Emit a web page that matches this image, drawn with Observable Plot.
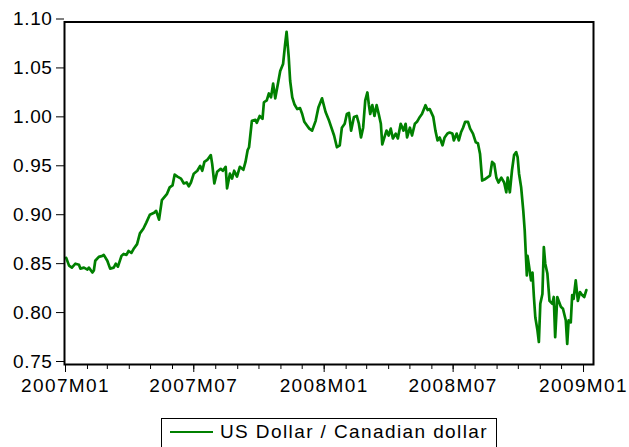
<!DOCTYPE html>
<html>
<head>
<meta charset="utf-8">
<script src="https://cdn.jsdelivr.net/npm/d3@7"></script>
<script src="https://cdn.jsdelivr.net/npm/@observablehq/plot@0.6"></script>
<style>
  html, body { margin: 0; padding: 0; background: #fff; }
  #wrap { position: relative; width: 629px; height: 447px; overflow: hidden; background: #fff; }
  #legend {
    position: absolute; left: 161px; top: 418px; width: 336px; height: 30px;
    border: 1px solid #000; box-sizing: border-box; display: flex; align-items: center;
    padding-bottom: 2px; background: #fff;
  }
  #legend .swatch { display: inline-block; width: 43px; height: 0; border-top: 2.5px solid #008000; margin-left: 8px; margin-right: 7px; }
  #legend .lab { font: 19px "Liberation Sans", Arial, sans-serif; letter-spacing: 1.4px; color: #000; white-space: nowrap; }
  .yax text { letter-spacing: 0.6px; }
</style>
</head>
<body>
<div id="wrap"></div>
<script>
// ---- Data ----
const seriesName = "US Dollar / Canadian dollar";
const dates = [
  "2007-01-02","2007-01-06","2007-01-10","2007-01-15","2007-01-20","2007-01-22","2007-01-27","2007-02-01",
  "2007-02-03","2007-02-08","2007-02-10","2007-02-12","2007-02-17","2007-02-22","2007-02-24","2007-03-01",
  "2007-03-05","2007-03-10","2007-03-13","2007-03-16","2007-03-21","2007-03-24","2007-03-28","2007-03-31",
  "2007-04-04","2007-04-07","2007-04-12","2007-04-16","2007-04-21","2007-04-25","2007-04-30","2007-05-06",
  "2007-05-09","2007-05-13","2007-05-17","2007-05-24","2007-05-28","2007-06-01","2007-06-04","2007-06-08",
  "2007-06-13","2007-06-17","2007-06-21","2007-06-24","2007-06-27","2007-07-01","2007-07-06","2007-07-10",
  "2007-07-13","2007-07-16","2007-07-20","2007-07-25","2007-07-27","2007-07-30","2007-08-03","2007-08-08",
  "2007-08-11","2007-08-15","2007-08-17","2007-08-21","2007-08-24","2007-08-27","2007-08-31","2007-09-04",
  "2007-09-09","2007-09-12","2007-09-15","2007-09-17","2007-09-21","2007-09-26","2007-09-28","2007-10-02",
  "2007-10-06","2007-10-08","2007-10-12","2007-10-15","2007-10-18","2007-10-21","2007-10-24","2007-10-28",
  "2007-10-31","2007-11-04","2007-11-07","2007-11-09","2007-11-12","2007-11-14","2007-11-17","2007-11-20",
  "2007-11-24","2007-11-28","2007-12-01","2007-12-04","2007-12-08","2007-12-11","2007-12-15","2007-12-20",
  "2007-12-24","2007-12-29","2008-01-03","2008-01-08","2008-01-15","2008-01-19","2008-01-23","2008-01-26",
  "2008-01-30","2008-02-02","2008-02-05","2008-02-08","2008-02-12","2008-02-16","2008-02-19","2008-02-22",
  "2008-02-25","2008-02-28","2008-03-02","2008-03-04","2008-03-06","2008-03-09","2008-03-12","2008-03-15",
  "2008-03-18","2008-03-21","2008-03-23","2008-03-26","2008-03-29","2008-04-01","2008-04-04","2008-04-07",
  "2008-04-11","2008-04-14","2008-04-18","2008-04-22","2008-04-25","2008-04-27","2008-05-01","2008-05-04",
  "2008-05-08","2008-05-11","2008-05-15","2008-05-18","2008-05-23","2008-05-26","2008-05-29","2008-06-03",
  "2008-06-06","2008-06-09","2008-06-12","2008-06-16","2008-06-19","2008-06-23","2008-06-26","2008-06-30",
  "2008-07-02","2008-07-06","2008-07-09","2008-07-12","2008-07-15","2008-07-18","2008-07-22","2008-07-25",
  "2008-07-29","2008-08-02","2008-08-05","2008-08-08","2008-08-11","2008-08-14","2008-08-18","2008-08-22",
  "2008-08-25","2008-08-28","2008-08-31","2008-09-03","2008-09-07","2008-09-11","2008-09-14","2008-09-16",
  "2008-09-19","2008-09-22","2008-09-25","2008-09-28","2008-09-30","2008-10-02","2008-10-05","2008-10-08",
  "2008-10-10","2008-10-13","2008-10-14","2008-10-17","2008-10-19","2008-10-21","2008-10-23","2008-10-25",
  "2008-10-28","2008-10-30","2008-11-01","2008-11-04","2008-11-06","2008-11-08","2008-11-11","2008-11-14",
  "2008-11-18","2008-11-20","2008-11-22","2008-11-25","2008-11-27","2008-11-30","2008-12-03","2008-12-07",
  "2008-12-09","2008-12-11","2008-12-14","2008-12-16","2008-12-18","2008-12-21","2008-12-24","2008-12-27",
  "2008-12-30","2009-01-02","2009-01-05"
];
const values = [
  0.859,0.851,0.849,0.853,0.852,0.848,0.849,0.847,
  0.849,0.844,0.846,0.856,0.860,0.861,0.862,0.856,
  0.848,0.849,0.853,0.850,0.861,0.863,0.862,0.866,
  0.864,0.868,0.873,0.884,0.889,0.895,0.903,0.905,
  0.907,0.898,0.918,0.924,0.931,0.933,0.944,0.942,
  0.940,0.935,0.936,0.932,0.936,0.945,0.948,0.953,
  0.948,0.957,0.959,0.964,0.955,0.935,0.947,0.950,
  0.948,0.952,0.930,0.945,0.940,0.948,0.942,0.952,
  0.949,0.957,0.969,0.972,0.999,1.000,0.997,1.004,
  1.001,1.018,1.020,1.027,1.023,1.037,1.022,1.038,
  1.050,1.057,1.078,1.090,1.064,1.040,1.023,1.016,
  1.011,1.012,1.006,0.998,0.994,0.991,0.989,0.999,
  1.013,1.022,1.008,0.999,0.984,0.972,0.974,0.992,
  0.996,1.006,1.007,0.989,1.003,1.004,0.996,0.982,
  0.992,1.020,1.028,1.016,1.006,1.015,1.004,1.015,
  1.006,0.996,0.975,0.982,0.989,0.984,0.991,0.981,
  0.986,0.981,0.996,0.989,0.996,0.982,0.992,0.984,
  0.996,0.998,1.003,1.006,1.015,1.010,1.011,1.003,
  0.989,0.979,0.982,0.974,0.982,0.986,0.987,0.986,
  0.979,0.986,0.979,0.987,0.992,0.998,0.998,0.991,
  0.986,0.977,0.976,0.965,0.938,0.939,0.941,0.943,
  0.957,0.955,0.941,0.936,0.941,0.936,0.926,0.941,
  0.926,0.948,0.964,0.967,0.962,0.945,0.931,0.907,
  0.887,0.841,0.861,0.846,0.836,0.844,0.819,0.798,
  0.785,0.773,0.812,0.822,0.870,0.853,0.843,0.815,
  0.812,0.819,0.778,0.819,0.815,0.809,0.807,0.795,
  0.771,0.795,0.793,0.821,0.817,0.836,0.815,0.824,
  0.821,0.819,0.826
];
const yTicks = [0.75, 0.80, 0.85, 0.90, 0.95, 1.00, 1.05, 1.10];
const xStart = "2007-01-01";
const xEnd = "2009-01-01";
const lineColor = "#008000";

// ---- Build ----
const data = dates.map((d, i) => ({date: new Date(d + "T00:00:00Z"), value: values[i]}));
const monthTicks = d3.utcMonth.range(new Date(xStart + "T00:00:00Z"), d3.utcDay.offset(new Date(xEnd + "T00:00:00Z"), 1));
const majorTicks = monthTicks.filter(d => d.getUTCMonth() % 6 === 0);
const fmtMonth = d => `${d.getUTCFullYear()}M${String(d.getUTCMonth() + 1).padStart(2, "0")}`;

const chart = Plot.plot({
  width: 629,
  height: 400,
  marginLeft: 64,
  marginRight: 36,
  marginTop: 21.5,
  marginBottom: 36,
  style: {
    fontFamily: "'Liberation Sans', Arial, sans-serif",
    fontSize: "19px",
    letterSpacing: "1.4px",
    color: "#000",
    background: "#fff"
  },
  x: {type: "utc", domain: [new Date(Date.UTC(2006, 11, 30, 14)), new Date(Date.UTC(2009, 0, 15, 2))]},
  y: {domain: [0.75, 1.10]},
  marks: [
    Plot.axisX({ticks: monthTicks, tickSize: 5, tickFormat: () => "", label: null, stroke: "#000"}),
    Plot.axisX({ticks: majorTicks, tickSize: 8, tickPadding: 6, tickFormat: fmtMonth, label: null, stroke: "#000", fill: "#000"}),
    Plot.axisY({ticks: yTicks, tickSize: 8, tickPadding: 4, tickFormat: d3.format(".2f"), label: null, dy: -3, stroke: "#000", fill: "#000", className: "yax"}),
    Plot.line(data, {x: "date", y: "value", stroke: lineColor, strokeWidth: 2.7, strokeLinejoin: "round", curve: "linear"}),
    Plot.frame({stroke: "#000", strokeWidth: 2})
  ]
});

const wrap = document.getElementById("wrap");
wrap.appendChild(chart);

const legend = document.createElement("div");
legend.id = "legend";
legend.innerHTML = `<span class="swatch"></span><span class="lab"></span>`;
legend.querySelector(".lab").textContent = seriesName;
legend.querySelector(".swatch").style.borderTopColor = lineColor;
wrap.appendChild(legend);
</script>
</body>
</html>
